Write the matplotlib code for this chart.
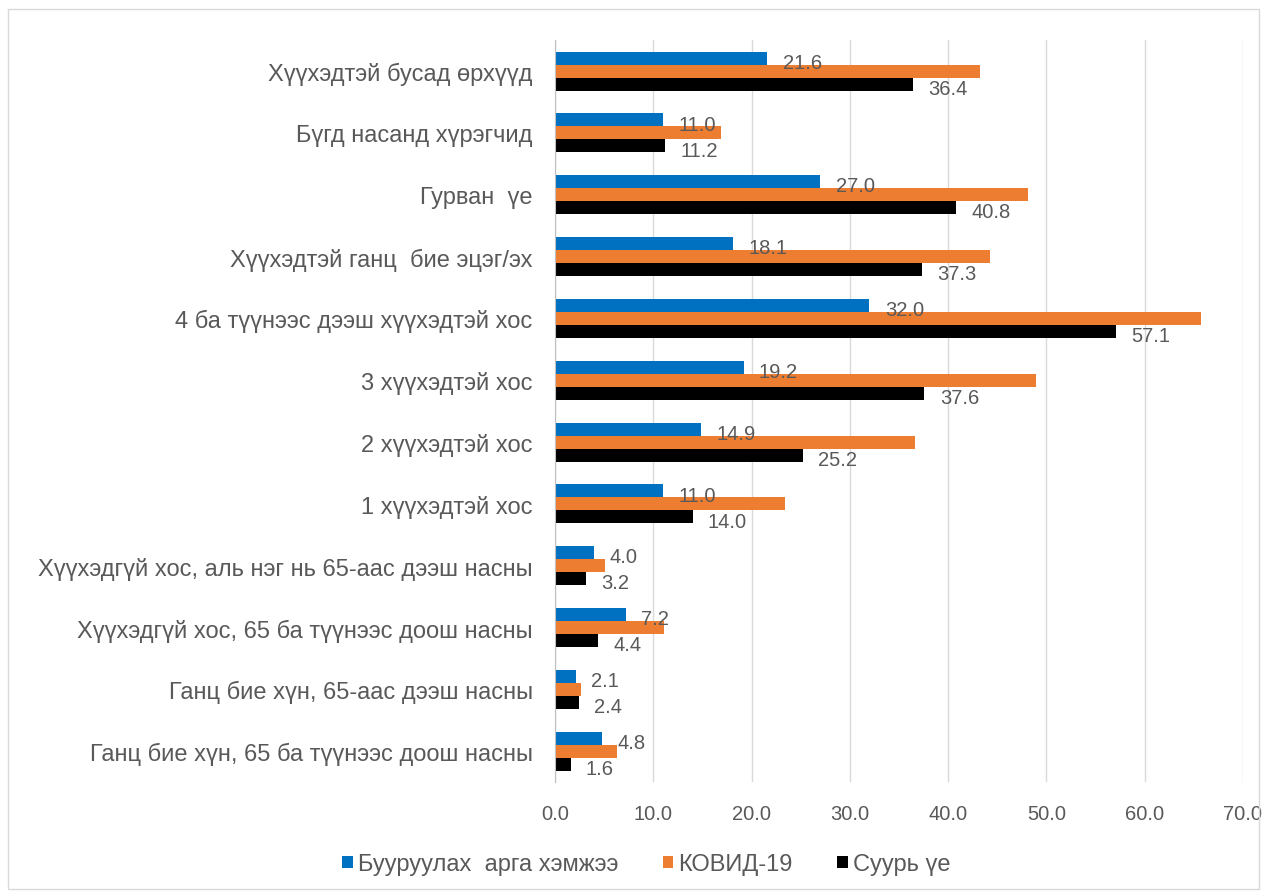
import numpy as np
import matplotlib.pyplot as plt
from matplotlib.patches import Rectangle

plt.rcParams['font.family'] = ['Liberation Sans', 'DejaVu Sans']

# categories from top to bottom
categories = [
    'Хүүхэдтэй бусад өрхүүд',
    'Бүгд насанд хүрэгчид',
    'Гурван  үе',
    'Хүүхэдтэй ганц  бие эцэг/эх',
    '4 ба түүнээс дээш хүүхэдтэй хос',
    '3 хүүхэдтэй хос',
    '2 хүүхэдтэй хос',
    '1 хүүхэдтэй хос',
    'Хүүхэдгүй хос, аль нэг нь 65-аас дээш насны',
    'Хүүхэдгүй хос, 65 ба түүнээс доош насны',
    'Ганц бие хүн, 65-аас дээш насны',
    'Ганц бие хүн, 65 ба түүнээс доош насны',
]
reduce_vals = [21.6, 11.0, 27.0, 18.1, 32.0, 19.2, 14.9, 11.0, 4.0, 7.2, 2.1, 4.8]
covid_vals = [43.2, 16.9, 48.1, 44.3, 65.7, 48.9, 36.6, 23.4, 5.1, 11.1, 2.7, 6.3]
base_vals = [36.4, 11.2, 40.8, 37.3, 57.1, 37.6, 25.2, 14.0, 3.2, 4.4, 2.4, 1.6]
series_names = ['Бууруулах  арга хэмжээ', 'КОВИД-19', 'Суурь үе']
colors = ['#0070C0', '#ED7D31', '#000000']
xticks = [0, 10, 20, 30, 40, 50, 60, 70]

text_col = '#595959'

fig = plt.figure(figsize=(12.67, 8.95), dpi=100)
ax = fig.add_axes([0.438, 0.125, 0.543, 0.829])

y = np.arange(len(categories))
h = 0.21
bars = []
for i, (vals, c, name) in enumerate(zip([reduce_vals, covid_vals, base_vals], colors, series_names)):
    b = ax.barh(y + (i - 1) * h, vals, height=h, color=c, label=name, zorder=3)
    bars.append(b)

# data labels for blue and black series only
for b, vals in [(bars[0], reduce_vals), (bars[2], base_vals)]:
    for rect, v in zip(b, vals):
        ax.annotate(f'{v:.1f}', (rect.get_width(), rect.get_y() + rect.get_height() / 2),
                    xytext=(11, -3), textcoords='offset points', va='center', ha='left',
                    fontsize=14.5, color=text_col)

ax.set_ylim(len(categories) - 0.5, -0.5)
ax.set_xlim(0, 70)
ax.set_yticks(y)
ax.set_yticklabels(categories, fontsize=17, color=text_col)
ax.set_xticks(xticks)
ax.set_xticklabels([f'{t:.1f}' for t in xticks], fontsize=14.5, color=text_col)
ax.tick_params(axis='both', length=0)
ax.tick_params(axis='y', pad=16)
ax.tick_params(axis='x', pad=16)
ax.xaxis.grid(True, color='#d9d9d9', linewidth=1, zorder=0)
for s in ['top', 'right', 'bottom']:
    ax.spines[s].set_visible(False)
ax.spines['left'].set_color('#bfbfbf')
ax.spines['left'].set_zorder(4)

leg = fig.legend(loc='center', bbox_to_anchor=(0.51, 0.033), ncol=3, frameon=False,
                 fontsize=17, handlelength=0.45, handleheight=0.45, handletextpad=0.2,
                 columnspacing=1.9)
for t in leg.get_texts():
    t.set_color(text_col)

# outer border
fig.patches.append(Rectangle((0.006, 0.006), 0.988, 0.983, transform=fig.transFigure,
                             fill=False, edgecolor='#d9d9d9', linewidth=1))

fig.savefig('out.png', dpi=100)
